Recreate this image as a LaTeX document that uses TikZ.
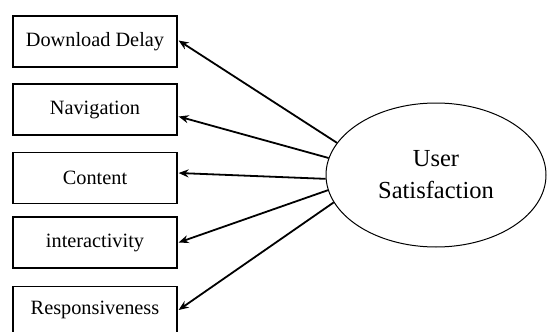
\documentclass[tikz,border=0pt]{standalone}
\usepackage{fontspec}
\setmainfont{Liberation Serif}
\usetikzlibrary{shapes.geometric,arrows.meta,calc}
\begin{document}
\begin{tikzpicture}[x=1pt,y=-1pt,
  boxnode/.style={draw,line width=1.2pt,minimum width=164pt,minimum height=51pt,inner sep=0pt,font=\fontsize{20.3}{23}\selectfont},
  ellnode/.style={draw,line width=1pt,ellipse,minimum width=220pt,minimum height=144pt,inner sep=0pt,align=center,font=\fontsize{24.5}{32}\selectfont},
  conn/.style={line width=1.8pt,-{Stealth[length=10pt,width=8pt]}}]
\useasboundingbox (0,0) rectangle (547,332);
\node[boxnode] (b1) at (95,41.5) {Download Delay};
\node[boxnode] (b2) at (95,109.5) {Navigation};
\node[boxnode] (b3) at (95,178) {Content};
\node[boxnode] (b4) at (95,242.5) {interactivity};
\node[boxnode,anchor=north,minimum height=62pt,text depth=20pt] (b5) at (95,286) {Responsiveness};
\node[ellnode] (us) at (436,175) {User\\Satisfaction};
\draw[conn] (us.162) -- ($(b1.east)+(1,-1)$);
\draw[conn] (us.171) -- ($(b2.east)+(1,7)$);
\draw[conn] (us.182) -- ($(b3.east)+(1,-5)$);
\draw[conn] (us.188) -- ($(b4.east)+(1,0)$);
\draw[conn] (us.195) -- ($(b5.north east)+(1,24)$);
\end{tikzpicture}
\end{document}
